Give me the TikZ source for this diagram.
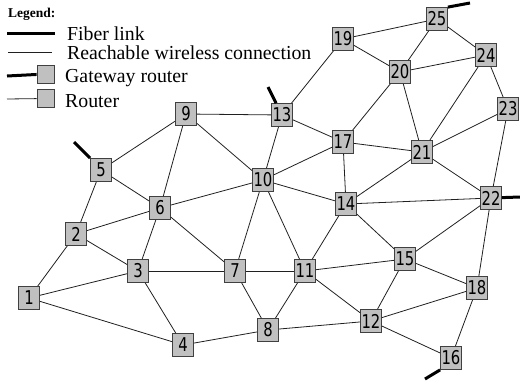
\documentclass[tikz,border=0pt]{standalone}
\usepackage{fontspec}
\setmainfont{Liberation Serif}
\newfontfamily\nodefont{DejaVu Sans}[FakeStretch=0.78]
\definecolor{boxfill}{HTML}{C0C0C0}
\definecolor{boxline}{HTML}{404040}
\definecolor{edgecol}{HTML}{202020}
\begin{document}
\begin{tikzpicture}[x=1pt,y=-1pt,
  router/.style={draw=boxline, fill=boxfill, line width=0.8pt, minimum width=21pt, minimum height=23pt, inner sep=0pt, font=\nodefont\fontsize{19}{19}\selectfont},
  smallbox/.style={draw=boxline, fill=boxfill, line width=0.8pt, minimum width=17pt, minimum height=18pt, inner sep=0pt},
  link/.style={draw=edgecol, line width=0.8pt},
  fiber/.style={draw=black, line width=3pt},
  legtext/.style={anchor=base west, inner sep=0pt, font=\fontsize{19.8}{20}\selectfont}]
\useasboundingbox (0,0) rectangle (520,386);
% legend
\node[anchor=base west, inner sep=0pt, font=\bfseries\fontsize{13.5}{14}\selectfont] (lg) at (8,17) {Legend:};
\coordinate (fa) at (7,33); \coordinate (fb) at (55,33);
\draw[fiber] (fa) -- (fb);
\node[legtext] (lt1) at (67,40) {Fiber link};
\coordinate (wa) at (8,52); \coordinate (wb) at (52,52);
\draw[link] (wa) -- (wb);
\node[legtext] (lt2) at (67,59) {Reachable wireless connection};
\coordinate (ga) at (7,76);
\node[smallbox] (lgw) at (45.5,74) {};
\draw[fiber] (ga) -- (lgw);
\node[legtext] (lt3) at (65,82) {Gateway router};
\coordinate (ra) at (7,99);
\node[smallbox] (lr) at (45.5,98.5) {};
\draw[link] (ra) -- (lr);
\node[legtext] (lt4) at (65,107) {Router};
% nodes
\node[router] (n1) at (29,298) {1};
\node[router] (n2) at (76,234) {2};
\node[router] (n3) at (138,271) {3};
\node[router] (n4) at (183,345) {4};
\node[router] (n5) at (101,170) {5};
\node[router] (n6) at (160,208) {6};
\node[router] (n7) at (235,271) {7};
\node[router] (n8) at (268,330) {8};
\node[router] (n9) at (186,114) {9};
\node[router] (n10) at (263,180) {10};
\node[router] (n11) at (305,271) {11};
\node[router] (n12) at (371,321) {12};
\node[router] (n13) at (282,115) {13};
\node[router] (n14) at (346,204) {14};
\node[router] (n15) at (405,259) {15};
\node[router] (n16) at (451,358) {16};
\node[router] (n17) at (343,142) {17};
\node[router] (n18) at (477,288) {18};
\node[router] (n19) at (343,39) {19};
\node[router] (n20) at (400,72) {20};
\node[router] (n21) at (422,152) {21};
\node[router] (n22) at (491,198) {22};
\node[router] (n23) at (508,109) {23};
\node[router] (n24) at (486,55) {24};
\node[router] (n25) at (437,19) {25};
% edges
\foreach \a/\b in {1/2,1/3,1/4,2/5,2/6,2/3,3/6,3/7,3/4,5/9,5/6,6/9,6/10,6/7,9/13,9/10,7/10,7/11,7/8,4/8,8/11,8/12,10/13,10/17,10/14,10/11,11/14,11/15,11/12,12/15,12/18,12/16,13/19,13/17,17/20,17/21,17/14,14/21,14/22,14/15,15/22,15/18,18/22,16/18,19/25,19/20,20/25,20/24,20/21,21/24,21/23,21/22,22/23,24/25,23/24}
  \draw[link] (n\a) -- (n\b);
% gateway fiber stubs
\coordinate (g5) at (74,142);
\coordinate (g13) at (268,87);
\coordinate (g25) at (470,3);
\coordinate (g22) at (520,197);
\coordinate (g16) at (425,379);
\draw[fiber] (g5) -- (n5.north west);
\draw[fiber] (g13) -- (n13);
\draw[fiber] (g25) -- (n25.north east);
\draw[fiber] (g22) -- (n22);
\draw[fiber] (g16) -- (n16.south west);
\end{tikzpicture}
\end{document}
